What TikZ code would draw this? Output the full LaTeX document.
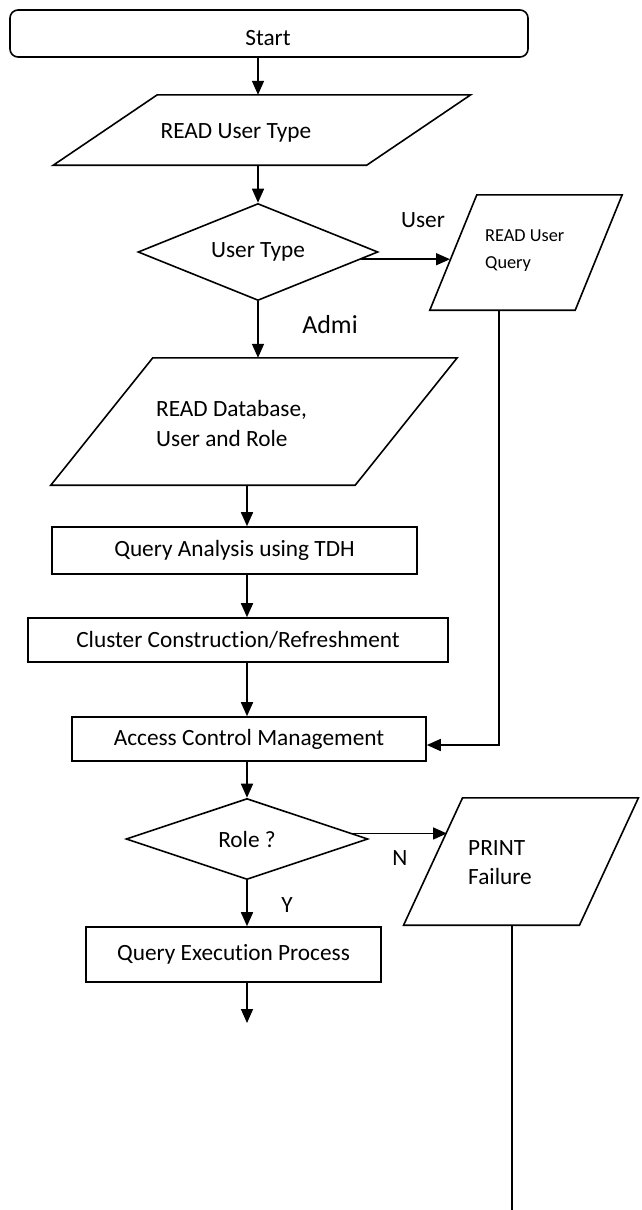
\documentclass[tikz,border=0pt]{standalone}
\usepackage{fontspec}
\setmainfont{Carlito}[Ligatures=NoCommon]
\usetikzlibrary{arrows.meta,shapes.geometric}

\tikzset{
  line/.style={draw=black, line width=1.6pt, line join=miter},
  arr/.style={line, -{Triangle[length=14pt,width=12pt]}},
  procbox/.style={line, rectangle, inner sep=0pt, font=\fontsize{23.3}{28}\selectfont},
  decision/.style={line, diamond, aspect=2.5, inner sep=0pt, font=\fontsize{23.3}{28}\selectfont},
  iobody/.style={rectangle, draw=none, inner sep=0pt},
  txt/.style={inner sep=0pt, font=\fontsize{23.3}{28}\selectfont},
  smalltxt/.style={inner sep=0pt, font=\fontsize{18.3}{27}\selectfont},
}

% draws a parallelogram over an invisible body node: #1 node, #2 slant
\newcommand{\ioframe}[2]{%
  \draw[line] ([xshift=#2]#1.north west) -- ([xshift=#2]#1.north east)
    -- ([xshift=-#2]#1.south east) -- ([xshift=-#2]#1.south west) -- cycle;}

\begin{document}
\begin{tikzpicture}[x=1pt, y=-1pt]
\useasboundingbox (0,0) rectangle (641,1210);

% main column for the lower connectors
\coordinate (col) at (247,0);

% start terminal
\node[procbox, rounded corners=8pt, minimum width=518, minimum height=47] (start) at (269,33.5) {};
\node[txt] (startT) at (268,38) {Start};

% READ User Type
\node[iobody, minimum width=313, minimum height=70] (rut) at (262,130) {};
\ioframe{rut}{52}
\node[txt] (rutT) at (236,133) {READ User Type};

% decision on the user type
\node[decision, minimum width=240, minimum height=97] (ut) at (258,252) {User Type};

% READ User Query
\node[iobody, minimum width=145, minimum height=115] (rq) at (526,252.5) {};
\ioframe{rq}{23.5}
\node[smalltxt, anchor=west, align=left] (rqT) at (485,251) {READ User\\Query};
\coordinate (rqIn) at (450,260);
\coordinate (rqOut) at (499,310);

% READ Database, User and Role
\node[iobody, minimum width=304, minimum height=127] (rdb) at (254,421.5) {};
\ioframe{rdb}{51}
\node[txt, anchor=west, align=left, font=\fontsize{23.3}{30}\selectfont] (rdbT) at (156,423) {READ Database,\\User and Role};

% process boxes
\node[procbox, minimum width=365, minimum height=47] (qa) at (234.5,550.5) {Query Analysis using TDH};
\node[procbox, minimum width=420, minimum height=44] (cc) at (238,640) {Cluster Construction/Refreshment};
\node[procbox, minimum width=354, minimum height=44] (ac) at (249,739) {Access Control Management};

% decision on the role
\node[decision, minimum width=242, minimum height=81] (role) at (247,839) {Role ?};

% PRINT Failure
\node[iobody, minimum width=175.5, minimum height=127] (pf) at (521,861.5) {};
\ioframe{pf}{29.5}
\node[txt, anchor=west, align=left, font=\fontsize{23.3}{29}\selectfont] (pfT) at (468,862.5) {PRINT\\Failure};
\coordinate (pfIn) at (447,833);
\coordinate (pfOut) at (512,925);
\coordinate (pfEnd) at (512,1210);

% query execution
\node[procbox, minimum width=295, minimum height=55] (qe) at (233.5,954.5) {Query Execution Process};
\coordinate (qeEnd) at (247,1023);

% connectors
\draw[arr] (start.south -| ut.north) -- (rut.north -| ut.north);
\draw[arr] (rut.south -| ut.north) -- (ut.north);
\draw[arr] (ut.-4.6) -- (ut.-4.6 -| rqIn);
\draw[arr] (ut.south) -- (rdb.north -| ut.south);
\draw[arr] (rdb.south -| col) -- (qa.north -| col);
\draw[arr] (qa.south -| col) -- (cc.north -| col);
\draw[arr] (cc.south -| col) -- (ac.north -| col);
\draw[arr] (rqOut) |- ([yshift=-6pt]ac.east);
\draw[arr] (ac.south -| col) -- (role.north);
\draw[arr] (role.3.3) -- (role.3.3 -| pfIn);
\draw[arr] (role.south) -- (qe.north -| role.south);
\draw[arr] (qe.south -| col) -- (qeEnd);
\draw[line] (pfOut) -- (pfEnd);

% branch labels
\node[txt] (lUser) at (423,220) {User};
\node[txt, font=\fontsize{26}{30}\selectfont] (lAdmi) at (330,325) {Admi};
\node[txt] (lN) at (400,858) {N};
\node[txt] (lY) at (287,905) {Y};
\end{tikzpicture}
\end{document}
